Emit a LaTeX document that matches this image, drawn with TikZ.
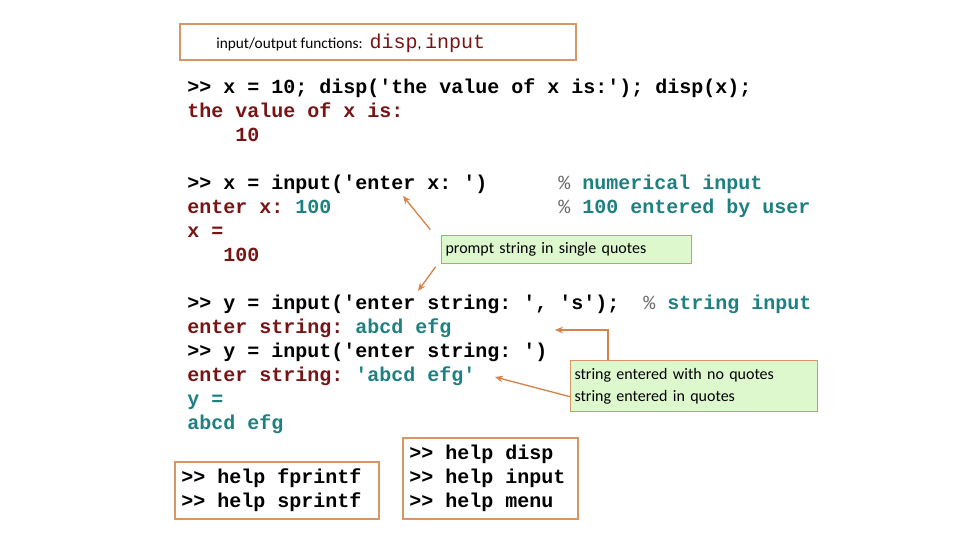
\documentclass[tikz,border=0pt]{standalone}
\usepackage{fontspec}
\setmainfont{Carlito}
\setmonofont{Liberation Mono}
\usetikzlibrary{arrows.meta}
\definecolor{codered}{RGB}{120,20,20}
\definecolor{codeteal}{RGB}{30,128,128}
\definecolor{pctgrey}{RGB}{110,110,110}
\definecolor{boxline}{RGB}{215,150,100}
\definecolor{notefill}{RGB}{222,248,206}
\definecolor{arrowc}{RGB}{215,130,70}
\tikzset{
  code/.style={anchor=base west,inner sep=0pt,font=\ttfamily\bfseries\fontsize{15}{18}\selectfont},
  frame/.style={draw=boxline,line width=0.8pt},
  note/.style={frame,fill=notefill,anchor=north west,inner xsep=3pt,align=left},
  pointer/.style={draw=arrowc,line width=1pt,-{Stealth[length=6pt,width=5pt]}}
}
\newcommand{\pct}{\textcolor{pctgrey}{\mdseries\%}}
\begin{document}
\begin{tikzpicture}[x=0.75pt,y=-0.75pt]
\useasboundingbox (0,0) rectangle (960,540);
% title box
\draw[frame] (180,24) rectangle (576,60);
\node[anchor=base west,inner sep=0pt,font=\fontsize{11.5}{13}\selectfont] (title) at (216,48)
  {input/output functions:\ \ \textcolor{codered}{\ttfamily\fontsize{15}{18}\selectfont disp},\ \textcolor{codered}{\ttfamily\fontsize{15}{18}\selectfont input}};
% disp
\node[code] (l1) at (187,93) {>> x = 10; disp('the value of x is:'); disp(x);};
\node[code,text=codered] (l2) at (187,117) {the value of x is:};
\node[code,text=codered] (l3) at (187,141) {\ \ \ \ 10};
% numerical input
\node[code] (l4) at (187,189) {>> x = input('enter x: ')};
\node[code,text=codeteal] (c4) at (558,189) {\pct{} numerical input};
\node[code] (l5) at (187,213) {\textcolor{codered}{enter x:} \textcolor{codeteal}{100}};
\node[code,text=codeteal] (c5) at (558,213) {\pct{} 100 entered by user};
\node[code,text=codered] (l6) at (187,237) {x =};
\node[code,text=codered] (l7) at (187,261) {\ \ \ 100};
% string input
\node[code] (l8) at (187,309) {>> y = input('enter string: ', 's');};
\node[code,text=codeteal] (c8) at (643,309) {\pct{} string input};
\node[code] (l9) at (187,333) {\textcolor{codered}{enter string:} \textcolor{codeteal}{abcd efg}};
\node[code] (l10) at (187,357) {>> y = input('enter string: ')};
\node[code] (l11) at (187,381) {\textcolor{codered}{enter string:} \textcolor{codeteal}{'abcd efg'}};
\node[code,text=codeteal] (l12) at (187,405) {y =};
\node[code,text=codeteal] (l13) at (187,429) {abcd efg};
% notes
\node[note,text width=250*0.75pt-6pt,minimum height=28*0.75pt,font=\fontsize{12}{13}\selectfont] (prompt) at (441,235) {prompt string in single quotes};
\node[note,text width=247*0.75pt-6pt,minimum height=51*0.75pt,font=\fontsize{12}{16.5}\selectfont] (strnote) at (570,360)
  {string entered with no quotes\\string entered in quotes};
\coordinate (elbow) at (608,330);
\draw[pointer] ([xshift=-8pt,yshift=4pt]prompt.north west) -- (403,196);
\draw[pointer] ([xshift=-4pt,yshift=-2pt]prompt.south west) -- (418,291);
\draw[pointer] (strnote.north west -| elbow) -- (elbow) -- (555,330);
\draw[pointer] ([yshift=-8pt]strnote.west) -- (495,377);
% help boxes
\draw[frame] (175,462) rectangle (379,519);
\node[code] (h1) at (181,483) {>> help fprintf};
\node[code] (h2) at (181,507) {>> help sprintf};
\draw[frame] (403,438) rectangle (578,519);
\node[code] (h3) at (409,459) {>> help disp};
\node[code] (h4) at (409,483) {>> help input};
\node[code] (h5) at (409,507) {>> help menu};
\end{tikzpicture}
\end{document}
